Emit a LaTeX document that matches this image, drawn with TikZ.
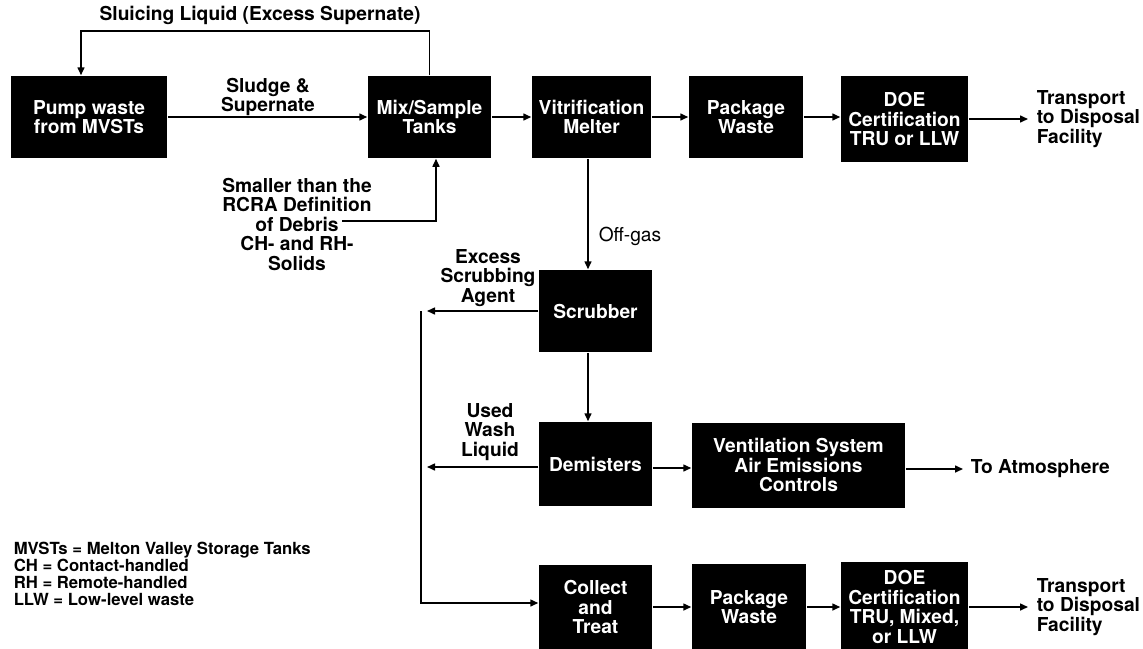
\documentclass[tikz,border=0pt]{standalone}
\usepackage{fontspec}
\setmainfont{TeX Gyre Heros}
\usetikzlibrary{arrows.meta}

\begin{document}
\begin{tikzpicture}[x=1pt, y=-1pt, ->, >={Triangle[length=8pt,width=7pt]}, line width=1.5pt,
    every node/.style={font=\fontsize{19.2}{19.5}\selectfont\bfseries, align=center, inner sep=0pt},
    box/.style={fill=black, text=white, minimum height=82pt},
    note/.style={font=\fontsize{16.7}{17.2}\selectfont\bfseries, align=left}]
\useasboundingbox (0,0) rectangle (1143,648);
% top row
\node[box, minimum width=156pt] (Pump) at (89,117) {Pump waste\\from MVSTs};
\node[box, minimum width=123pt] (Mix) at (429.5,117) {Mix/Sample\\Tanks};
\node[box, minimum width=119pt] (Vit) at (591.5,117) {Vitrification\\Melter};
\node[box, minimum width=114pt] (Pkg1) at (746,117) {Package\\Waste};
\node[box, minimum width=127pt, minimum height=86pt] (DOE1) at (904.5,119) {DOE\\Certification\\TRU or LLW};
\node[anchor=west, align=left] (Trans1) at (1036,119) {Transport\\to Disposal\\Facility};
\node (SluiceLbl) at (260,15) {Sluicing Liquid (Excess Supernate)};
\node (SludgeLbl) at (268,97) {Sludge \&\\Supernate};
\node (SolidsLbl) at (297,224) {Smaller than the\\RCRA Definition\\of Debris\\CH- and RH-\\Solids};
\coordinate (sluice) at (81,31);
\coordinate (debris) at (342,221);
\draw (Mix.north) |- (sluice) -- (sluice |- Pump.north);
\draw (Pump) -- (Mix);
\draw (debris) -| ([xshift=6.5pt]Mix.south);
\draw (Mix) -- (Vit);
\draw (Vit) -- (Pkg1);
\draw (Pkg1) -- (Pkg1 -| DOE1.west);
\draw[shorten >=8pt] (DOE1) -- (Trans1);
% off-gas branch
\node[box, minimum width=113pt] (Scrub) at (595.5,311) {Scrubber};
\node[box, minimum width=113pt, minimum height=84pt] (Demist) at (595.5,464) {Demisters};
\node[box, minimum width=213pt, minimum height=85pt] (Vent) at (798.5,465) {Ventilation System\\Air Emissions\\Controls};
\node[anchor=west] (Atmo) at (970,469) {To Atmosphere};
\node[font=\fontsize{19.2}{19.5}\selectfont] (OffLbl) at (630,236) {Off-gas};
\node (ExcessLbl) at (488,278) {Excess\\Scrubbing\\Agent};
\node (WashLbl) at (490,432) {Used\\Wash\\Liquid};
\draw ([xshift=-3.5pt]Vit.south) -- ([xshift=-3.5pt]Vit.south |- Scrub.north);
\draw ([xshift=-7.5pt]Scrub.south) -- ([xshift=-7.5pt]Scrub.south |- Demist.north);
\draw ([yshift=-4pt]Demist.east) -- ([yshift=-4pt]Demist.east -| Vent.west);
\draw[shorten >=7pt] (Vent.east |- Atmo) -- (Atmo);
% bottom row
\node[box, minimum width=113pt, minimum height=84pt] (Coll) at (595.5,607) {Collect\\and\\Treat};
\node[box, minimum width=114pt, minimum height=86pt] (Pkg2) at (749,607) {Package\\Waste};
\node[box, minimum width=127pt, minimum height=90pt] (DOE2) at (904.5,607) {DOE\\Certification\\TRU, Mixed,\\or LLW};
\node[anchor=west, align=left] (Trans2) at (1036,607) {Transport\\to Disposal\\Facility};
\draw (Coll) -- (Pkg2);
\draw (Pkg2) -- (DOE2);
\draw[shorten >=8pt] (DOE2) -- (Trans2);
% liquids back to collection
\coordinate (jtop) at (421,311);
\coordinate (jmid) at (421,467);
\coordinate (jbot) at (421,603);
\draw[shorten >=6pt] (Scrub.west) -- (jtop);
\draw[shorten >=6pt] (Demist.west |- jmid) -- (jmid);
\draw (jtop) -- (jbot) -- (jbot -| Coll.west);
\node[note, anchor=north west] (Legend) at (13,541) {MVSTs = Melton Valley Storage Tanks\\CH = Contact-handled\\RH = Remote-handled\\LLW = Low-level waste};
\end{tikzpicture}
\end{document}
